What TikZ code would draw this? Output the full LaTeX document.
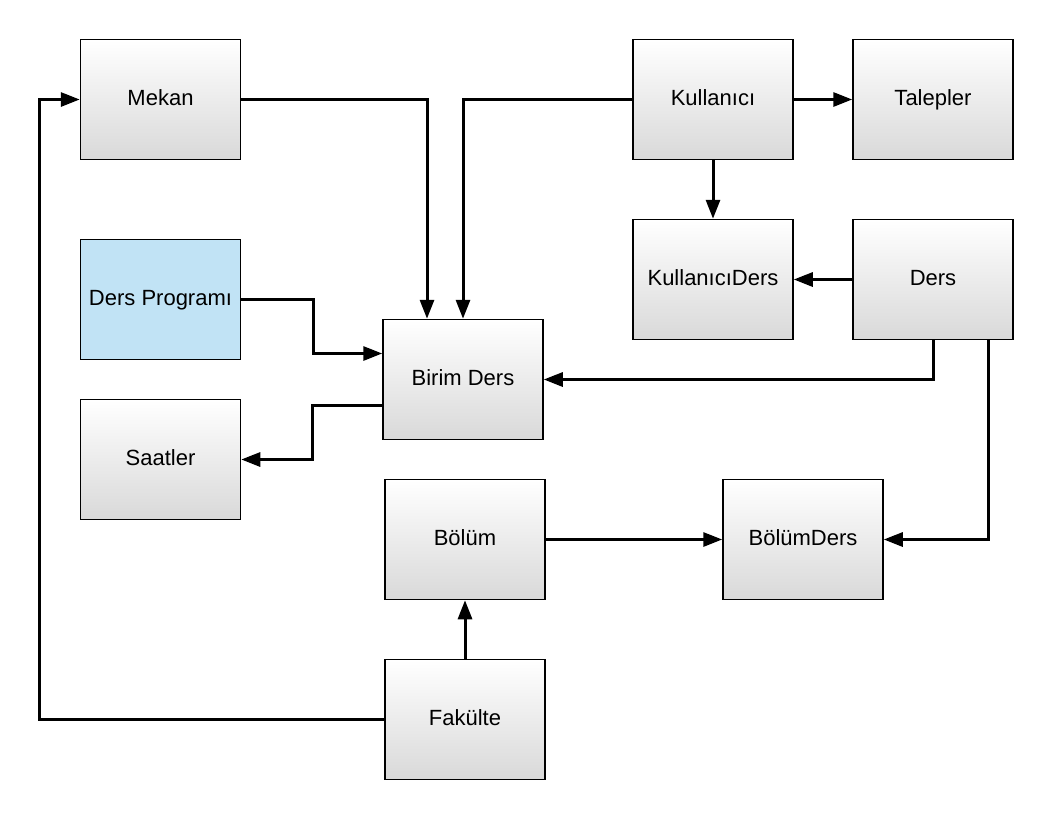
\documentclass[tikz,border=0pt]{standalone}
\usepackage{fontspec}
\setmainfont{Liberation Sans}
\usetikzlibrary{arrows.meta}
\definecolor{lblue}{RGB}{193,227,245}
\tikzset{
  box/.style={draw=black, line width=1.5pt, minimum width=160pt, minimum height=120pt,
    inner sep=0pt, top color=white, bottom color=black!15,
    font=\fontsize{22}{26}\selectfont, text depth=4pt},
  bluebox/.style={box, top color=lblue, bottom color=lblue, fill=lblue},
  arr/.style={line width=3pt, -{Triangle[length=19pt,width=14pt]}}
}
\begin{document}
\begin{tikzpicture}[x=1pt,y=-1pt]
\fill[white] (0,0) rectangle (1053,820);
\useasboundingbox (0,0) rectangle (1053,820);
\node[box] (mekan) at (160.5,99.5) {Mekan};
\node[bluebox] (dp) at (160.5,299.5) {Ders Programı};
\node[box] (saat) at (160.5,459.5) {Saatler};
\node[box] (birim) at (463,379.5) {Birim Ders};
\node[box] (kul) at (713,99.5) {Kullanıcı};
\node[box] (tal) at (933,99.5) {Talepler};
\node[box] (kd) at (713,279.5) {KullanıcıDers};
\node[box] (ders) at (933,279.5) {Ders};
\node[box] (bolum) at (465,539.5) {Bölüm};
\node[box] (bd) at (803,539.5) {BölümDers};
\node[box] (fak) at (465,719.5) {Fakülte};

\draw[arr] (mekan.east) -| ([xshift=-36pt]birim.north);
\draw[arr] (kul.west) -| (birim.north);
\draw[arr] (kul.east) -- (tal.west);
\draw[arr] (kul.south) -- (kd.north);
\draw[arr] (ders.west) -- (kd.east);
\draw[arr] (ders.south) |- (birim.east);
\draw[arr] ([xshift=55pt]ders.south) |- (bd.east);
\draw[arr] (dp.east) -- ++(72,0) |- ([yshift=26pt]birim.west);
\draw[arr] ([yshift=-25.5pt]birim.west) -- ++(-70,0) |- (saat.east);
\draw[arr] (bolum.east) -- (bd.west);
\draw[arr] (fak.north) -- (bolum.south);
\draw[arr] (fak.west) -- ++(-345,0) |- (mekan.west);
\end{tikzpicture}
\end{document}
